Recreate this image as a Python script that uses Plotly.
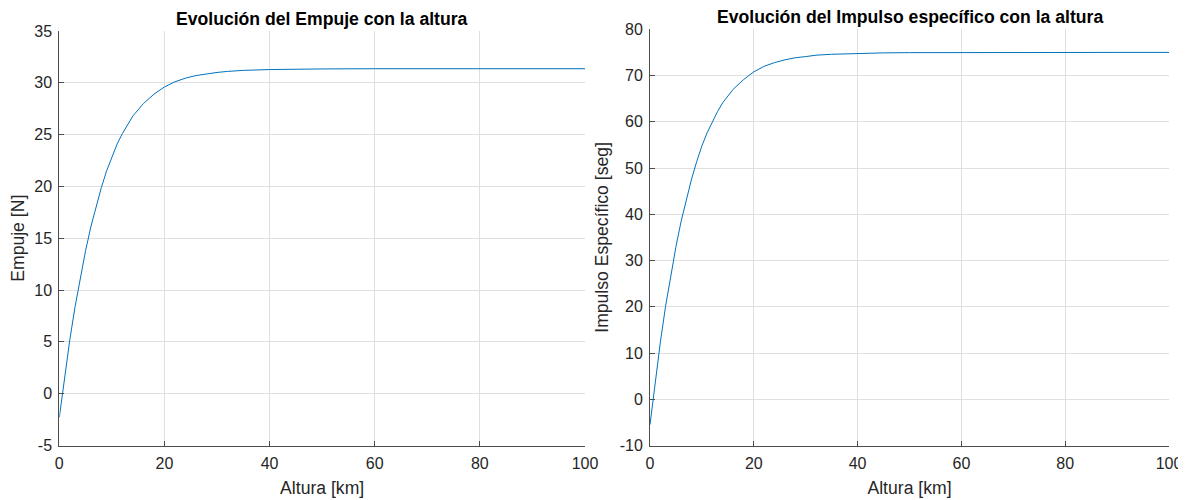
import plotly.graph_objects as go

# Altitude samples [km]
altura = [0, 1, 2, 3, 4, 5, 6, 7, 8, 9, 10, 11, 12, 13, 14, 15, 16, 18, 20, 22,
          24, 26, 28, 30, 32, 35, 40, 45, 50, 60, 70, 80, 90, 100]

# Thrust [N]
empuje = [-2.3, 1.7, 5.2, 8.4, 11.2, 13.8, 16.1, 18.1, 19.9, 21.5, 22.9, 24.1, 25.1, 26.0,
          26.8, 27.4, 28.0, 28.9, 29.6, 30.1, 30.45, 30.7, 30.88, 31.0, 31.1, 31.2, 31.28,
          31.32, 31.34, 31.36, 31.36, 31.36, 31.36, 31.36]

# Specific impulse [s]
impulso = [-5.5, 4.1, 12.4, 20.1, 26.8, 33.0, 38.5, 43.3, 47.6, 51.4, 54.8, 57.6, 60.0, 62.2,
           64.1, 65.5, 67.0, 69.1, 70.8, 72.0, 72.8, 73.4, 73.85, 74.1, 74.4, 74.6, 74.8,
           74.9, 74.95, 75.0, 75.0, 75.0, 75.0, 75.0]

# Tick values / labels
x_ticks = [0, 20, 40, 60, 80, 100]
y1_ticks = [-5, 0, 5, 10, 15, 20, 25, 30, 35]
y1_labels = ["-5", "0", "5", "10", "15", "20", "25", "30", "35"]
y2_ticks = [-10, 0, 10, 20, 30, 40, 50, 60, 70, 80]
y2_labels = ["-10", "0", "10", "20", "30", "40", "50", "60", "70", "80"]

titulos = ["Evolución del Empuje con la altura",
           "Evolución del Impulso específico con la altura"]
etiqueta_x = "Altura [km]"
etiquetas_y = ["Empuje [N]", "Impulso Específico [seg]"]

LINE = "#0072BD"
FONT = "Liberation Sans, Arial, sans-serif"
TXT = "#262626"
GRID = "#dfdfdf"
AX = "#4d4d4d"

fig = go.Figure()
fig.add_trace(go.Scatter(x=altura, y=empuje, mode="lines", line=dict(color=LINE, width=1),
                         xaxis="x", yaxis="y", showlegend=False))
fig.add_trace(go.Scatter(x=altura, y=impulso, mode="lines", line=dict(color=LINE, width=1),
                         xaxis="x2", yaxis="y2", showlegend=False))

# page body adds an 8px offset; work in page pixels minus 8
OFF = 8
W, H = 1186 - OFF, 500 - OFF
dom_x1 = [(59.3 - OFF) / W, (585 - OFF) / W]
dom_x2 = [(650 - OFF) / W, (1169 - OFF) / W]
dom_y1 = [1 - (445.5 - OFF) / H, 1 - (31 - OFF) / H]
dom_y2 = [1 - (445.5 - OFF) / H, 1 - (29.3 - OFF) / H]

common_x = dict(range=[0, 100], tickvals=x_ticks, ticktext=[str(v) for v in x_ticks],
                showgrid=True, gridcolor=GRID, gridwidth=1,
                zeroline=False, showline=True, linecolor=AX, linewidth=1, ticks="inside",
                ticklen=5, tickcolor=AX, tickfont=dict(family=FONT, size=16, color=TXT),
                ticklabelstandoff=3,
                title=dict(text=etiqueta_x, font=dict(family=FONT, size=17.6, color=TXT), standoff=10),
                mirror=False, automargin=False)
common_y = dict(showgrid=True, gridcolor=GRID, gridwidth=1, zeroline=False, showline=True,
                linecolor=AX, linewidth=1, ticks="inside", ticklen=5, tickcolor=AX,
                tickfont=dict(family=FONT, size=16, color=TXT), ticklabelstandoff=3,
                mirror=False, automargin=False)

fig.update_layout(
    width=W, height=H,
    margin=dict(l=0, r=0, t=0, b=0, autoexpand=False),
    paper_bgcolor="white", plot_bgcolor="white",
    xaxis=dict(domain=dom_x1, anchor="y", **common_x),
    yaxis=dict(domain=dom_y1, anchor="x", range=[-5, 35], tickvals=y1_ticks, ticktext=y1_labels,
               title=dict(text=etiquetas_y[0], font=dict(family=FONT, size=17.6, color=TXT), standoff=6),
               **common_y),
    xaxis2=dict(domain=dom_x2, anchor="y2", **common_x),
    yaxis2=dict(domain=dom_y2, anchor="x2", range=[-10, 80], tickvals=y2_ticks, ticktext=y2_labels,
                title=dict(text=etiquetas_y[1], font=dict(family=FONT, size=17.6, color=TXT), standoff=6),
                **common_y),
    annotations=[
        dict(text="<b>" + titulos[0] + "</b>", x=(dom_x1[0] + dom_x1[1]) / 2, y=1 - (18.5 - OFF) / H,
             xref="paper", yref="paper", showarrow=False, xanchor="center", yanchor="middle",
             font=dict(family=FONT, size=17.6, color="black")),
        dict(text="<b>" + titulos[1] + "</b>", x=(dom_x2[0] + dom_x2[1]) / 2, y=1 - (17.5 - OFF) / H,
             xref="paper", yref="paper", showarrow=False, xanchor="center", yanchor="middle",
             font=dict(family=FONT, size=17.6, color="black")),
    ],
)

fig.write_html("out.html")
